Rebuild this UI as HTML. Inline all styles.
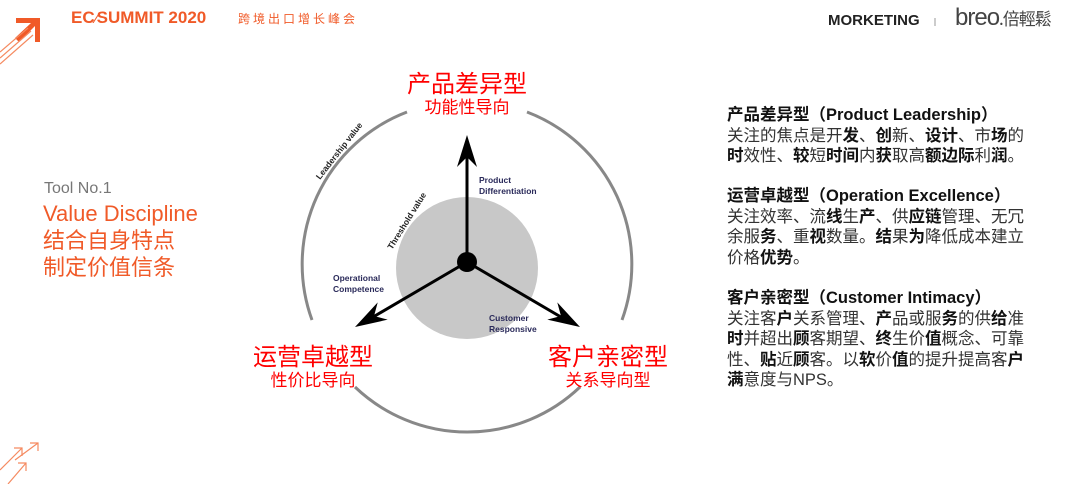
<!DOCTYPE html>
<html><head><meta charset="utf-8"><style>
body{margin:0;width:1080px;height:484px;background:#fff;overflow:hidden;position:relative;font-family:"Liberation Sans","Noto Sans CJK SC",sans-serif}
.a{position:absolute;white-space:nowrap}
.r{color:#f00;text-align:center;font-family:"Noto Sans CJK SC",sans-serif}
.rt{position:absolute;left:727px;font-size:16.5px;line-height:20.5px;color:#333;font-family:"Liberation Sans","Noto Sans CJK SC",sans-serif;white-space:nowrap}
.rt b{color:#111}
</style></head><body>
<svg class="a" style="left:0;top:0" width="1080" height="484">
<polygon points="16,18 40,18 40,42 35,42 35,26 19,42 15,38 31,23 16,23" fill="#f05a28"/>
<g stroke="#f58a60" stroke-width="1.2"><line x1="0" y1="52" x2="28" y2="28"/><line x1="0" y1="58" x2="31" y2="31"/><line x1="0" y1="64" x2="33" y2="35"/></g>
<g stroke="#f58a60" stroke-width="1.2" fill="none"><line x1="0" y1="470" x2="22" y2="448"/><polyline points="14,448 22,448 22,456"/><line x1="15" y1="460" x2="38" y2="443"/><polyline points="30,443 38,443 38,451"/><line x1="8" y1="484" x2="26" y2="463"/><polyline points="18,463 26,463 26,471"/></g>
<line x1="935" y1="18" x2="935" y2="26" stroke="#999"/>
<circle cx="467" cy="268" r="71" fill="#c8c8c8"/>
<g stroke="#888" stroke-width="3" fill="none">
<path d="M407 112 A163 163 0 0 0 312 320"/>
<path d="M527 112 A163 163 0 0 1 622 320"/>
<path d="M355 387 A163 163 0 0 0 580 387"/>
</g>
<g stroke="#000" stroke-width="3">
<line x1="467" y1="262" x2="467" y2="150"/>
<line x1="467" y1="262" x2="368" y2="320"/>
<line x1="467" y1="262" x2="566" y2="320"/>
</g>
<g fill="#000">
<polygon transform="translate(467,135) rotate(-90)" points="0,0 -32,-10 -22,0 -32,10"/>
<polygon transform="translate(355,327) rotate(150)" points="0,0 -32,-10 -22,0 -32,10"/>
<polygon transform="translate(580,327) rotate(30)" points="0,0 -32,-10 -22,0 -32,10"/>
</g>
<circle cx="467" cy="262" r="10" fill="#000"/>
<g font-family="Liberation Sans" font-weight="bold" font-size="8.5" fill="#2a2a5a">
<text x="479" y="183">Product</text><text x="479" y="194">Differentiation</text>
<text x="333" y="281">Operational</text><text x="333" y="292">Competence</text>
<text x="489" y="321">Customer</text><text x="489" y="332">Responsive</text>
</g>
<g font-family="Liberation Sans" font-weight="bold" font-size="8.5" fill="#222">
<text transform="translate(320,180) rotate(-52)">Leadership value</text>
<text transform="translate(392,250) rotate(-58)">Threshold value</text>
</g>
</svg>
<div class="a" style="left:71px;top:8px;font-size:17px;font-weight:bold;color:#f05a28">EC<span style="font-size:12px">∕</span>SUMMIT 2020</div>
<div class="a" style="left:238px;top:10px;font-size:12px;color:#f05a28;letter-spacing:3px;font-family:'Noto Sans CJK SC',sans-serif">跨境出口增长峰会</div>
<div class="a" style="left:828px;top:12px;font-size:15px;font-weight:bold;color:#222">MORKETING</div>
<div class="a" style="left:955px;top:4px;font-size:24px;color:#444;letter-spacing:-1px">breo<span style="font-size:17px;font-family:'Noto Sans CJK SC',sans-serif">.倍輕鬆</span></div>
<div class="a" style="left:44px;top:180px;font-size:16px;color:#777">Tool No.1</div>
<div class="a" style="left:43px;top:200px;font-size:22px;color:#f05a28;line-height:27px;font-family:'Liberation Sans','Noto Sans CJK SC',sans-serif">Value Discipline<br>结合自身特点<br>制定价值信条</div>
<div class="a r" style="left:367px;top:64px;width:200px;font-size:24px">产品差异型</div>
<div class="a r" style="left:367px;top:93px;width:200px;font-size:17px">功能性导向</div>
<div class="a r" style="left:213px;top:337px;width:200px;font-size:24px">运营卓越型</div>
<div class="a r" style="left:213px;top:366px;width:200px;font-size:17px">性价比导向</div>
<div class="a r" style="left:508px;top:337px;width:200px;font-size:24px">客户亲密型</div>
<div class="a r" style="left:508px;top:366px;width:200px;font-size:17px">关系导向型</div>
<div class="rt" style="top:105px"><b>产品差异型（Product Leadership）</b><br>关注的焦点是开<b>发</b>、<b>创</b>新、<b>设计</b>、市<b>场</b>的<br><b>时</b>效性、<b>较</b>短<b>时间</b>内<b>获</b>取高<b>额边际</b>利<b>润</b>。</div>
<div class="rt" style="top:186px"><b>运营卓越型（Operation Excellence）</b><br>关注效率、流<b>线</b>生<b>产</b>、供<b>应链</b>管理、无冗<br>余服<b>务</b>、重<b>视</b>数量。<b>结</b>果<b>为</b>降低成本建立<br>价格<b>优势</b>。</div>
<div class="rt" style="top:288px"><b>客户亲密型（Customer Intimacy）</b><br>关注客<b>户</b>关系管理、<b>产</b>品或服<b>务</b>的供<b>给</b>准<br><b>时</b>并超出<b>顾</b>客期望、<b>终</b>生价<b>值</b>概念、可靠<br>性、<b>贴</b>近<b>顾</b>客。以<b>软</b>价<b>值</b>的提升提高客<b>户</b><br><b>满</b>意度与NPS。</div>
</body></html>
